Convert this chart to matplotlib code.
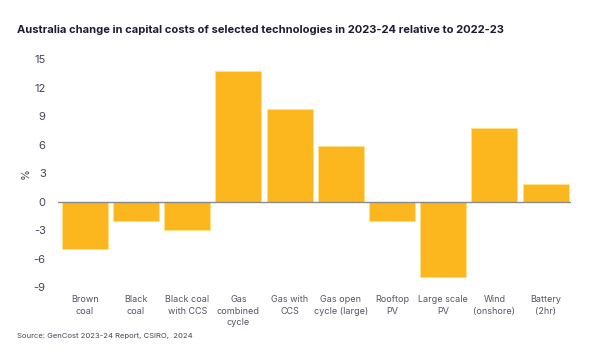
import matplotlib
matplotlib.use("Agg")
import matplotlib.pyplot as plt

categories = ["Brown\ncoal", "Black\ncoal", "Black coal\nwith CCS", "Gas\ncombined\ncycle",
              "Gas with\nCCS", "Gas open\ncycle (large)", "Rooftop\nPV", "Large scale\nPV",
              "Wind\n(onshore)", "Battery\n(2hr)"]
values = [-5.0, -2.0, -3.0, 13.8, 9.8, 5.9, -2.0, -7.9, 7.8, 1.9]
yticks = [-9, -6, -3, 0, 3, 6, 9, 12, 15]

plt.rcParams['font.family'] = ['Inter', 'DejaVu Sans']
fig = plt.figure(figsize=(6, 3.5), dpi=100)
ax = fig.add_axes([0.097, 0.18, 0.855, 0.651])
x = list(range(len(categories)))
ax.bar(x, values, width=0.9, color="#FCB71E", edgecolor="#FFE08A", linewidth=0.6, zorder=2)
ax.axhline(0, color="#8a8a8a", linewidth=1, zorder=3)
ax.set_xlim(-0.52, len(categories) - 0.5)
ax.set_ylim(-9, 15)
ax.set_yticks(yticks)
ax.set_yticklabels([str(v) for v in yticks], fontsize=8, color="#444455")
ax.set_xticks(x)
ax.set_xticklabels(categories, fontsize=6.5, color="#555566", linespacing=1.35, va="top")
ax.tick_params(axis="both", length=0)
ax.tick_params(axis="y", pad=9)
ax.tick_params(axis="x", pad=6)
for s in ax.spines.values():
    s.set_visible(False)
ax.set_ylabel("%", fontsize=8, color="#444455", labelpad=2)

fig.text(0.028, 0.915, "Australia change in capital costs of selected technologies in 2023-24 relative to 2022-23",
         fontsize=8.0, fontweight="bold", color="#1c1c34", va="center")
fig.text(0.028, 0.04, "Source: GenCost 2023-24 Report, CSIRO,  2024", fontsize=5.5, color="#444455", va="center")
fig.savefig("out.png", dpi=100, facecolor="white")
